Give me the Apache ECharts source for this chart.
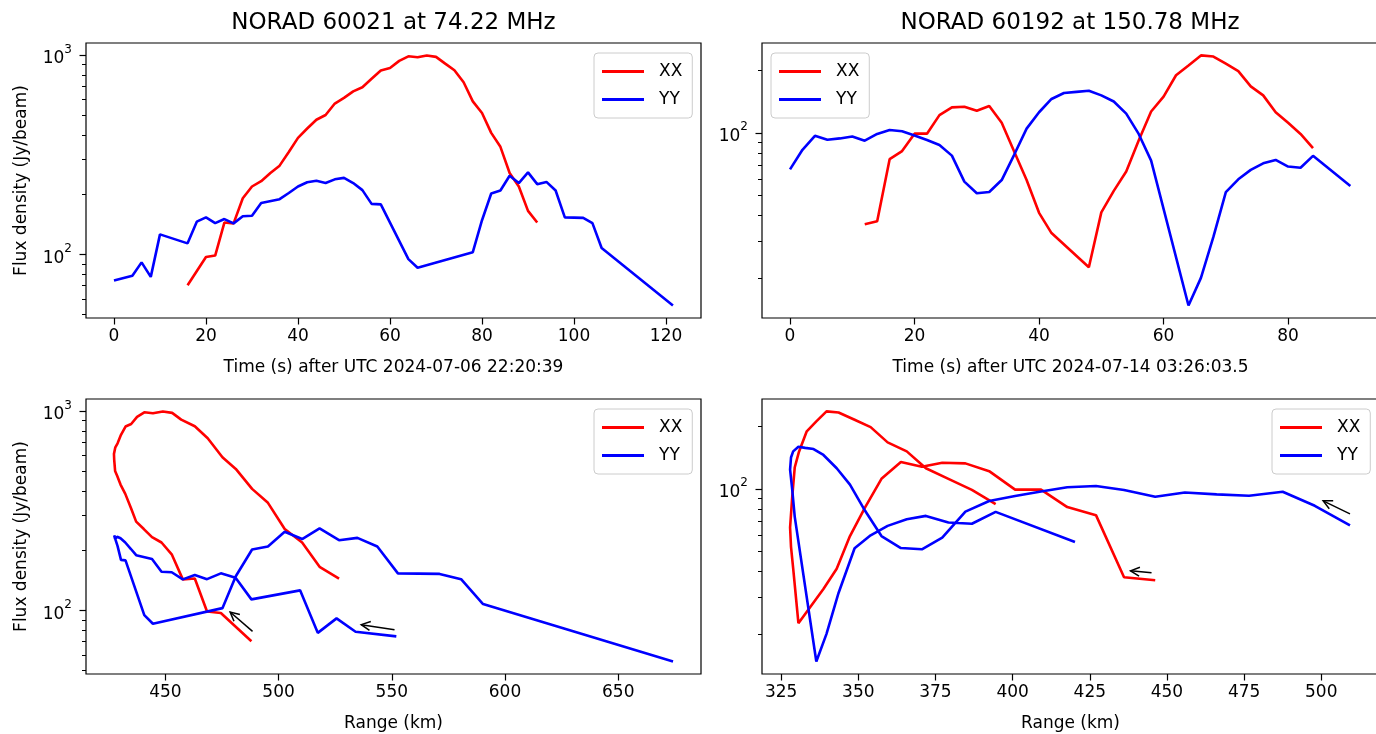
<!DOCTYPE html>
<html><head><meta charset="utf-8">
<script src="https://cdn.jsdelivr.net/npm/echarts@6/dist/echarts.min.js"></script>
<style>html,body{margin:0;padding:0;background:#fff;overflow:hidden}#c{width:1376px;height:734px}</style>
</head><body><div id="c"></div>
<script>
// ---- Satellite A: NORAD 60021 at 74.22 MHz ----
const timeA  = [0, 4, 6, 8, 10, 16, 18, 20, 22, 24, 26, 28, 30, 32, 34, 36, 38, 40, 42, 44, 46, 48, 50, 52, 54, 56, 58, 60, 62, 64, 66, 68, 70, 72, 74, 76, 78, 80, 82, 84, 86, 88, 90, 92, 94, 96, 98, 102, 104, 106, 121.5];
const rangeA = [552, 534, 525.6, 517.3, 509.5, 488, 481, 474.5, 468.4, 463, 457.7, 452.8, 448.3, 444.1, 440.5, 437.1, 434.8, 432.3, 430.2, 428.7, 427.8, 427.4, 427.3, 427.9, 428.9, 430.4, 432.4, 434.9, 437.5, 440.7, 444.5, 448.9, 453, 457, 463, 468.7, 475.2, 481.1, 488.3, 495.3, 502.7, 510.4, 518.1, 526.7, 534.8, 543.6, 552.7, 571.1, 580.6, 590.3, 674.2];
const xxA    = [null, null, null, null, null, 70.2, null, 97.3, 99, 145, 143.6, 192, 220, 234, 257, 280, 328, 386, 430, 476, 503, 574, 613, 661, 693, 764, 841, 866, 940, 991, 980, 1000, 985, 911, 844, 734, 589, 515, 409, 348, 257, 220, 166, 145, null, null, null, null, null, null, null];
const yyA    = [74.3, 78.4, 91.5, 77.4, 126.5, 114, 146.5, 154, 144, 151, 143.6, 156, 157, 182, null, 190, 204, 220, 231, 235, 229, 239, 243, 229, 211, 180, 179, null, null, 95, 86, null, null, null, null, null, 103, 149, 203, 210, 249, 229, 259, 226, 232, 210, 154, 153, 144, 108, 55.6];

// ---- Satellite B: NORAD 60192 at 150.78 MHz ----
const timeB  = [0, 2, 4, 6, 8, 10, 12, 14, 16, 18, 20, 22, 24, 26, 28, 30, 32, 34, 36, 38, 40, 42, 44, 46, 48, 50, 52, 54, 56, 58, 60, 62, 64, 66, 68, 70, 72, 74, 76, 78, 80, 82, 84, 90];
const rangeB = [509.3, 497.9, 487.5, 476.6, 466.1, 455.8, 446.2, 436.1, 427, 417.7, 409.2, 400.8, 392.4, 384.7, 377.2, 370.6, 363.8, 357.5, 352.2, 347.3, 343, 338.7, 335.5, 332.8, 330.6, 328.9, 328.2, 327.9, 328.6, 329.4, 330.7, 333.3, 336.4, 339.7, 343.6, 348.8, 354, 359.5, 365.7, 371.9, 379.2, 386.8, 394.5, 420.2];
const xxB    = [null, null, null, null, null, null, 36.3, 37.5, 74.8, 81.8, 99.3, 99.3, 122, 133, 134, 128, 135, 112, 81.5, 59.3, 41.2, 32.9, null, null, 22.5, 41.4, 52.6, 65.2, 92, 127, 150, 190, 212, 237, 234, 216, 199, 168, 152, 126, 112, 99, 84.5, null];
const yyB    = [66.8, 83, 97, 92.8, 94.2, 96.3, 91.8, 99, 103.4, 102, 97.3, 92.5, 87.5, 77.8, 58.3, 51.2, 51.9, 59.3, 78.5, 105, 126, 146, 156, 158, 160, 152, 142, 124, 99, 73.6, null, null, 14.7, 20, 31.5, 51.8, 59.8, 66.4, 71.4, 74.2, 68.9, 68, 77.6, 55.5];

// direction arrows [fromRange, fromFlux, toRange, toFlux]
const arrowsA = [[488.5, 78.7, 478.6, 98.5], [551.2, 80.3, 536.5, 85.1]];
const arrowsB = [[445.0, 39.4, 438.2, 40.3], [509.3, 75.9, 500.6, 87.7]];

// text & ticks
const titles = ['NORAD 60021 at 74.22 MHz', 'NORAD 60192 at 150.78 MHz'];
const xNames = ['Time (s) after UTC 2024-07-06 22:20:39', 'Time (s) after UTC 2024-07-14 03:26:03.5', 'Range (km)', 'Range (km)'];
const yName = 'Flux density (Jy/beam)';
const timeTicksA = [0, 20, 40, 60, 80, 100, 120];
const timeTicksB = [0, 20, 40, 60, 80];
const rangeTicksA = [450, 500, 550, 600, 650];
const rangeTicksB = [325, 350, 375, 400, 425, 450, 475, 500];
const majorA = [100, 1000];
const minorA = [50, 60, 70, 80, 90, 200, 300, 400, 500, 600, 700, 800, 900];
const majorB = [100];
const minorB = [20, 30, 40, 50, 60, 70, 80, 90, 200];

const FONT = 'DejaVu Sans';
const RED = '#ff0000', BLUE = '#0000ff';

function pairs(xs, ys) {
  const out = [];
  for (let i = 0; i < xs.length; i++) if (ys[i] != null) out.push([xs[i], ys[i]]);
  return out;
}

const grids = [
  {left: 86, top: 43, width: 615, height: 275},
  {left: 762, top: 43, width: 617, height: 275},
  {left: 86, top: 399, width: 615, height: 275},
  {left: 762, top: 399, width: 617, height: 275}
].map(g => Object.assign(g, {show: true, borderColor: '#000', borderWidth: 1.2, backgroundColor: 'transparent',
  containLabel: false, outerBoundsMode: 'none'}));

const xExt = [[-6.08, 127.6], [-4.5, 94.6], [414.95, 686.55], [318.8, 518.7]];
const xTicks = [timeTicksA, timeTicksB, rangeTicksA, rangeTicksB];
const yExt = [[48.1, 1156], [12.8, 272], [48.1, 1156], [12.8, 272]];
const yMajor = [majorA, majorB, majorA, majorB];
const yMinor = [minorA, minorB, minorA, minorB];

const xAxes = xExt.map((e, i) => ({
  type: 'value', gridIndex: i, min: e[0], max: e[1], position: 'bottom',
  axisLine: {show: false, onZero: false}, splitLine: {show: false},
  axisTick: {show: true, customValues: xTicks[i], length: 6.5, lineStyle: {color: '#000', width: 1.2}},
  axisLabel: {customValues: xTicks[i], margin: 10, fontSize: 17, color: '#000', fontFamily: FONT},
  name: xNames[i], nameLocation: 'middle', nameGap: 41,
  nameTextStyle: {fontSize: 17, color: '#000', fontFamily: FONT}
}));

const yAxes = [];
yExt.forEach((e, i) => {
  yAxes.push({
    type: 'log', logBase: 10, gridIndex: i, min: e[0], max: e[1], position: 'left',
    axisLine: {show: false, onZero: false}, splitLine: {show: false}, minorTick: {show: false},
    axisTick: {show: true, customValues: yMajor[i], length: 6.5, lineStyle: {color: '#000', width: 1.2}},
    axisLabel: {
      customValues: yMajor[i], margin: 14, color: '#000', fontFamily: FONT,
      formatter: v => '{b|10}{s|' + Math.round(Math.log10(v)) + '}',
      rich: {b: {fontSize: 17, fontFamily: FONT, color: '#000', lineHeight: 24, verticalAlign: 'bottom'},
             s: {fontSize: 12, fontFamily: FONT, color: '#000', verticalAlign: 'top'}}
    },
    name: (i === 0 || i === 2) ? yName : '', nameLocation: 'middle', nameGap: 56, nameRotate: 90,
    nameTextStyle: {fontSize: 17, color: '#000', fontFamily: FONT}
  });
});
yExt.forEach((e, i) => {
  yAxes.push({
    type: 'log', logBase: 10, gridIndex: i, min: e[0], max: e[1], position: 'left', offset: 0,
    axisLine: {show: false, onZero: false}, splitLine: {show: false}, axisLabel: {show: false},
    axisTick: {show: true, customValues: yMinor[i], length: 4, lineStyle: {color: '#000', width: 1}}
  });
});

function lineSeries(name, color, gi, data) {
  return {
    type: 'line', name, xAxisIndex: gi, yAxisIndex: gi, data,
    symbol: 'none', showSymbol: false, smooth: false, animation: false,
    lineStyle: {color, width: 2.6}, itemStyle: {color}, z: 3
  };
}

function arrowSeries(gi, data) {
  return {
    type: 'custom', xAxisIndex: gi, yAxisIndex: gi, data, silent: true, animation: false, z: 5,
    encode: {x: [0, 2], y: [1, 3]},
    renderItem: (params, api) => {
      const p1 = api.coord([api.value(0), api.value(1)]);
      const p2 = api.coord([api.value(2), api.value(3)]);
      const dx = p2[0] - p1[0], dy = p2[1] - p1[1];
      const len = Math.hypot(dx, dy) || 1;
      const ux = dx / len, uy = dy / len, hl = 9, hw = 4.5;
      const bx = p2[0] - ux * hl, by = p2[1] - uy * hl;
      return {
        type: 'group', children: [
          {type: 'line', shape: {x1: p1[0], y1: p1[1], x2: p2[0], y2: p2[1]}, style: {stroke: '#000', lineWidth: 1.5}},
          {type: 'polyline', shape: {points: [[bx - uy * hw, by + ux * hw], p2, [bx + uy * hw, by - ux * hw]]},
           style: {stroke: '#000', fill: null, lineWidth: 1.5}}
        ]
      };
    }
  };
}

const series = [
  lineSeries('XX', RED, 0, pairs(timeA, xxA)),
  lineSeries('YY', BLUE, 0, pairs(timeA, yyA)),
  lineSeries('XX', RED, 1, pairs(timeB, xxB)),
  lineSeries('YY', BLUE, 1, pairs(timeB, yyB)),
  lineSeries('XX', RED, 2, pairs(rangeA, xxA)),
  lineSeries('YY', BLUE, 2, pairs(rangeA, yyA)),
  lineSeries('XX', RED, 3, pairs(rangeB, xxB)),
  lineSeries('YY', BLUE, 3, pairs(rangeB, yyB)),
  arrowSeries(2, arrowsA),
  arrowSeries(3, arrowsB)
];

const legendPos = [[594, 53], [771, 53], [594, 409], [1272, 409]];
const legends = legendPos.map(p => ({
  data: ['XX', 'YY'], left: p[0], top: p[1], orient: 'vertical',
  icon: 'rect', itemWidth: 42, itemHeight: 3, itemGap: 11, padding: [10, 10, 10, 8],
  borderColor: '#cccccc', borderWidth: 1, borderRadius: 4, backgroundColor: 'rgba(255,255,255,0.8)',
  selectedMode: false,
  textStyle: {fontSize: 17, color: '#000', fontFamily: FONT, padding: [0, 0, 0, 10]}
}));

const titleCfg = titles.map((t, i) => ({
  text: t, left: i === 0 ? 393.5 : 1070, top: 12, textAlign: 'center', padding: 0,
  textStyle: {fontSize: 23, fontWeight: 'normal', color: '#000', fontFamily: FONT}
}));

const chart = echarts.init(document.getElementById('c'), null, {renderer: 'canvas'});
chart.setOption({
  animation: false,
  backgroundColor: '#fff',
  title: titleCfg,
  legend: legends,
  grid: grids,
  xAxis: xAxes,
  yAxis: yAxes,
  series
});
</script></body></html>
